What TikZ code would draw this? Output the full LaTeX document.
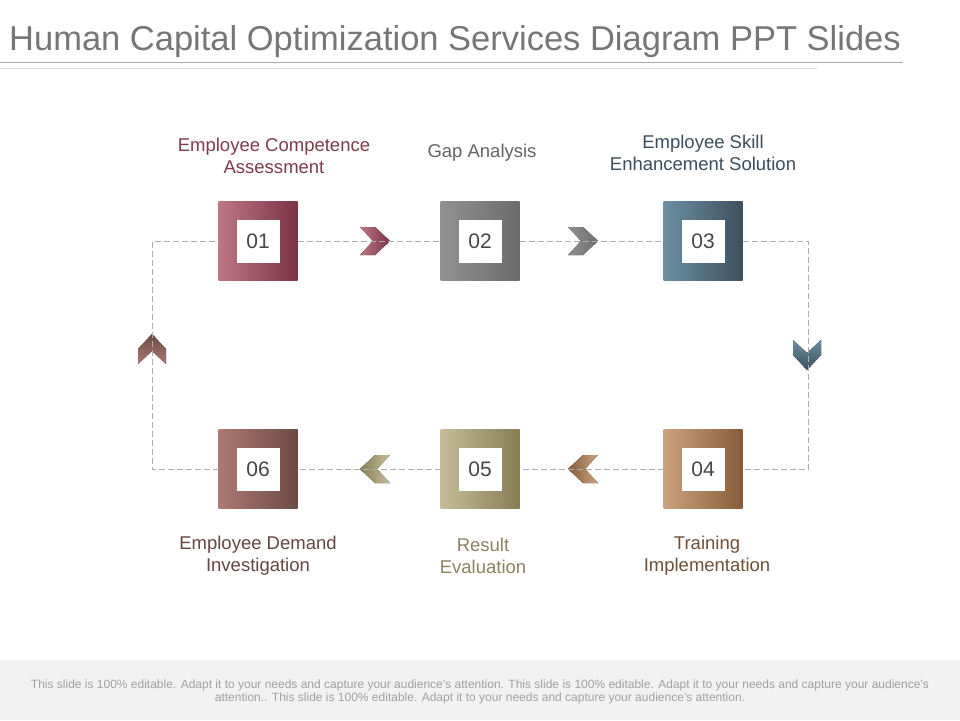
\documentclass[tikz,border=0pt]{standalone}
\usepackage{fontspec}
\setmainfont{Liberation Sans}
\usetikzlibrary{positioning}

\definecolor{titlegray}{RGB}{118,118,118}
\definecolor{rulegray}{RGB}{170,170,170}
\definecolor{dashgray}{RGB}{175,175,175}
\definecolor{numgray}{RGB}{70,70,70}
\definecolor{footfill}{RGB}{242,242,242}
\definecolor{foottext}{RGB}{160,160,160}
% box shades, light left / dark right
\definecolor{roseL}{RGB}{188,118,133}
\definecolor{roseR}{RGB}{122,52,70}
\definecolor{greyL}{RGB}{145,145,145}
\definecolor{greyR}{RGB}{108,108,108}
\definecolor{slateL}{RGB}{108,143,162}
\definecolor{slateR}{RGB}{60,80,95}
\definecolor{tanL}{RGB}{203,163,128}
\definecolor{tanR}{RGB}{133,93,58}
\definecolor{oliveL}{RGB}{198,188,152}
\definecolor{oliveR}{RGB}{135,125,85}
\definecolor{mauveL}{RGB}{172,122,114}
\definecolor{mauveR}{RGB}{108,74,68}
% label text
\definecolor{labrose}{RGB}{125,60,75}
\definecolor{labgrey}{RGB}{100,100,100}
\definecolor{labslate}{RGB}{60,78,92}
\definecolor{labtan}{RGB}{110,80,55}
\definecolor{labolive}{RGB}{140,130,95}
\definecolor{labmauve}{RGB}{100,70,65}

% chevron: x, y, angle, shade name (light at the tail, dark at the tip)
\newcommand{\chevmark}[4]{%
  \pgfmathtruncatemacro\chevshade{90+#3}%
  \begin{scope}[shift={(#1,#2)}, rotate=#3]
    \fill[left color=#4L, right color=#4R, shading angle=\chevshade] (-15,-14) -- (0,-14) -- (15,0) -- (0,14) -- (-15,14) -- (-2,0) -- cycle;
  \end{scope}}

\begin{document}
\begin{tikzpicture}[x=1pt, y=-1pt, node distance=222pt,
    stepbox/.style={minimum size=79pt, inner sep=0pt, outer sep=0pt},
    numbox/.style={fill=white, minimum size=43pt, inner sep=0pt, text=numgray, font=\fontsize{21}{21}\selectfont},
    steplabel/.style={align=center, font=\fontsize{18.5}{22}\selectfont},
    loopline/.style={draw=dashgray, dash pattern=on 6pt off 3pt, line width=0.8pt}]
    \useasboundingbox (0,0) rectangle (960,720);
    \fill[white] (0,0) rectangle (960,720);
    \fill[footfill] (0,660) rectangle (960,720);

    % title and rules
    \node[anchor=base west, inner sep=0pt, text=titlegray, font=\fontsize{34.5}{34.5}\selectfont] (title) at (9,50) {Human Capital Optimization Services Diagram PPT Slides};
    \draw[rulegray, line width=1pt] (0,62) -- (903,62);
    \draw[rulegray!45, line width=1pt] (0,68) -- (817,68);

    % steps
    \node[stepbox, left color=roseL, right color=roseR] (box01) at (258,241) {};
    \node[stepbox, left color=greyL, right color=greyR, right of=box01] (box02) {};
    \node[stepbox, left color=slateL, right color=slateR, right of=box02, node distance=223pt] (box03) {};
    \node[stepbox, left color=tanL, right color=tanR, below of=box03, node distance=228pt] (box04) {};
    \node[stepbox, left color=oliveL, right color=oliveR, left of=box04, node distance=223pt] (box05) {};
    \node[stepbox, left color=mauveL, right color=mauveR, left of=box05] (box06) {};

    \node[numbox] (num01) at (box01) {01};
    \node[numbox] (num02) at (box02) {02};
    \node[numbox] (num03) at (box03) {03};
    \node[numbox] (num04) at (box04) {04};
    \node[numbox] (num05) at (box05) {05};
    \node[numbox] (num06) at (box06) {06};

    % chevrons sit under the dashed loop
    \chevmark{375}{241}{0}{rose}
    \chevmark{583}{241}{0}{grey}
    \chevmark{807}{355}{-90}{slate}
    \chevmark{583}{469}{180}{tan}
    \chevmark{375}{469}{180}{olive}
    \chevmark{152}{349}{90}{mauve}

    % dashed loop
    \coordinate (cornerNE) at (808,241);
    \coordinate (cornerSE) at (808,469);
    \coordinate (cornerSW) at (152,469);
    \coordinate (cornerNW) at (152,241);
    \draw[loopline] (box01) -- (box02);
    \draw[loopline] (box02) -- (box03);
    \draw[loopline] (box03) -- (cornerNE) -- (cornerSE) -- (box04);
    \draw[loopline] (box04) -- (box05);
    \draw[loopline] (box05) -- (box06);
    \draw[loopline] (box06) -- (cornerSW) -- (cornerNW) -- (box01);

    % labels
    \node[steplabel, text=labrose, above of=box01, node distance=85pt, xshift=16pt] (lab01) {Employee Competence\\Assessment};
    \node[steplabel, text=labgrey, above of=box02, node distance=88pt, xshift=2pt] (lab02) {Gap Analysis};
    \node[steplabel, text=labslate, above of=box03, node distance=88pt] (lab03) {Employee Skill\\Enhancement Solution};
    \node[steplabel, text=labtan, below of=box04, node distance=87pt, xshift=4pt] (lab04) {Training\\Implementation};
    \node[steplabel, text=labolive, below of=box05, node distance=87pt, xshift=3pt] (lab05) {Result\\Evaluation};
    \node[steplabel, text=labmauve, below of=box06, node distance=87pt] (lab06) {Employee Demand\\Investigation};

    % footer
    \node[align=center, text=foottext, font=\fontsize{12}{13}\selectfont] (footer) at (480,692) {This slide is 100\% editable. Adapt it to your needs and capture your audience's attention. This slide is 100\% editable. Adapt it to your needs and capture your audience's\\attention.. This slide is 100\% editable. Adapt it to your needs and capture your audience's attention.};
\end{tikzpicture}
\end{document}
